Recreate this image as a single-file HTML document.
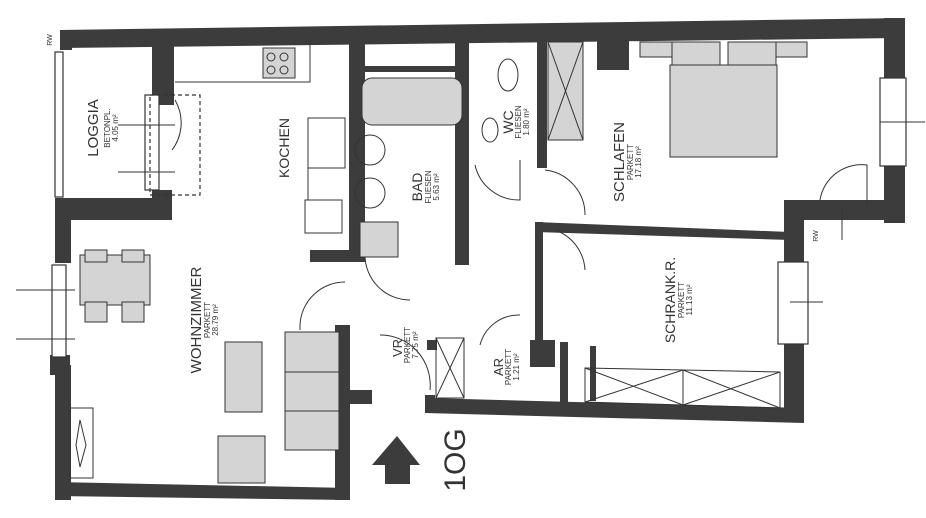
<!DOCTYPE html>
<html><head><meta charset="utf-8"><style>
html,body{margin:0;padding:0;background:#fff;}
svg{display:block;}
text{font-family:"Liberation Sans",sans-serif;fill:#333;}
</style></head><body>
<svg width="926" height="518" viewBox="0 0 926 518" xmlns="http://www.w3.org/2000/svg">
<rect width="926" height="518" fill="#fff"/>
<g fill="#3c3c3c">
<!-- top outer wall -->
<polygon points="60,30 905,18 905,38 60,48"/>
<!-- right wall schlafen -->
<rect x="884" y="18" width="21" height="205"/>
<rect x="790" y="200" width="115" height="20"/>
<!-- schrank right wall -->
<rect x="784" y="200" width="20" height="222"/>
<!-- bottom right wall -->
<polygon points="425,398 804,408 804,423 425,413"/>
<!-- loggia walls -->
<rect x="60" y="30" width="12" height="20"/>
<rect x="152" y="45" width="22" height="60"/>
<rect x="152" y="190" width="20" height="30"/>
<rect x="55" y="198" width="117" height="22"/>
<!-- wohnzimmer left wall -->
<rect x="55" y="198" width="16" height="65"/>
<rect x="50" y="355" width="20" height="20"/>
<rect x="55" y="365" width="16" height="135"/>
<!-- bottom wohnzimmer -->
<polygon points="55,482 350,488 350,500 55,496"/>
<rect x="335" y="325" width="15" height="175"/>
<rect x="350" y="390" width="22" height="14"/>
<!-- kitchen/bad wall -->
<rect x="349" y="40" width="16" height="222"/>
<rect x="310" y="250" width="55" height="12"/>
<!-- bad right wall -->
<rect x="455" y="40" width="14" height="225"/>
<rect x="365" y="66" width="100" height="6"/>
<!-- wc right wall -->
<rect x="537" y="40" width="10" height="128"/>
<!-- small pillar -->
<rect x="597" y="40" width="32" height="30"/>
<!-- schrank/schlafen wall -->
<polygon points="535,222 790,232 790,240 535,232"/>
<rect x="535" y="222" width="8" height="120"/>
<!-- VR/AR -->
<rect x="427" y="340" width="10" height="10"/>
<rect x="425" y="395" width="10" height="18"/>
<rect x="530" y="340" width="25" height="27"/>
<rect x="560" y="342" width="8" height="60"/>
<rect x="590" y="346" width="6" height="55"/>
</g>
<!-- windows -->
<g fill="#fff" stroke="#333" stroke-width="1.2">
<rect x="55" y="52" width="8" height="145"/>
<rect x="145" y="95" width="14" height="95"/>
<rect x="52" y="265" width="14" height="92"/>
<rect x="880" y="78" width="26" height="88"/>
<rect x="778" y="262" width="30" height="82"/>
<rect x="150" y="95" width="50" height="100" fill="none" stroke-dasharray="4,3"/>
</g>
<!-- window sill lines -->
<g stroke="#333" stroke-width="1" fill="none">
<line x1="118" y1="125" x2="175" y2="125"/><line x1="118" y1="172" x2="175" y2="172"/>
<line x1="16" y1="290" x2="75" y2="290"/><line x1="16" y1="339" x2="75" y2="339"/>
<line x1="880" y1="122" x2="925" y2="122"/><line x1="790" y1="302" x2="823" y2="302"/>
<line x1="842" y1="210" x2="842" y2="240"/>
<!-- doors arcs -->
<path d="M175,100 A45,45 0 0 1 172,150"/>
<path d="M820,200 A42,42 0 0 1 867,165 L867,205"/>
<path d="M365,255 A45,45 0 0 0 410,300"/>
<path d="M300,325 A45,45 0 0 1 345,282"/>
<path d="M475,165 A45,45 0 0 0 520,200 L520,160"/>
<path d="M545,170 A45,45 0 0 1 585,215"/>
<path d="M555,230 A45,45 0 0 1 585,270"/>
<path d="M480,345 A40,40 0 0 1 520,315"/>
<path d="M380,335 A50,50 0 0 1 430,390"/>
<path d="M300,325 L300,330"/>
<!-- counters -->
<polyline points="175,82 310,82 310,40"/>
<rect x="308" y="118" width="37" height="50"/>
<rect x="305" y="200" width="37" height="33"/>
<line x1="308" y1="168" x2="308" y2="200"/>
<rect x="362" y="78" width="100" height="47" fill="#d4d4d4" rx="10"/>
<ellipse cx="370" cy="150" rx="15" ry="15"/>
<ellipse cx="370" cy="193" rx="15" ry="15"/>
<rect x="360" y="222" width="38" height="35" fill="#d4d4d4"/>
<ellipse cx="508" cy="75" rx="10" ry="16"/>
<ellipse cx="490" cy="130" rx="8" ry="12"/>
<rect x="548" y="42" width="35" height="98" fill="#d4d4d4"/>
<line x1="548" y1="42" x2="583" y2="140"/><line x1="583" y1="42" x2="548" y2="140"/>
<rect x="263" y="48" width="32" height="30" fill="#d4d4d4"/>
<circle cx="271" cy="57" r="4"/><circle cx="284" cy="57" r="4"/><circle cx="271" cy="70" r="4"/><circle cx="284" cy="70" r="4"/>
<!-- bed -->
<rect x="640" y="42" width="35" height="15" fill="#d4d4d4"/>
<rect x="775" y="42" width="32" height="15" fill="#d4d4d4"/>
<rect x="672" y="42" width="48" height="25" fill="#d4d4d4"/>
<rect x="728" y="42" width="48" height="25" fill="#d4d4d4"/>
<rect x="670" y="65" width="107" height="92" fill="#d4d4d4"/>
<!-- wardrobe -->
<polygon points="585,368 780,372 780,408 585,402"/>
<line x1="683" y1="370" x2="683" y2="405"/>
<line x1="585" y1="368" x2="683" y2="405"/><line x1="585" y1="402" x2="683" y2="370"/>
<line x1="683" y1="370" x2="780" y2="408"/><line x1="683" y1="405" x2="780" y2="372"/>
<rect x="436" y="338" width="28" height="60"/>
<line x1="436" y1="338" x2="464" y2="398"/><line x1="464" y1="338" x2="436" y2="398"/>
<!-- living furniture -->
<rect x="80" y="255" width="70" height="50" fill="#d4d4d4"/>
<rect x="85" y="250" width="22" height="12" fill="#d4d4d4"/><rect x="122" y="250" width="22" height="12" fill="#d4d4d4"/>
<rect x="85" y="302" width="22" height="20" fill="#d4d4d4"/><rect x="122" y="302" width="22" height="20" fill="#d4d4d4"/>
<rect x="225" y="342" width="37" height="70" fill="#d4d4d4"/>
<rect x="285" y="332" width="54" height="118" fill="#d4d4d4"/>
<line x1="285" y1="372" x2="339" y2="372"/><line x1="285" y1="411" x2="339" y2="411"/>
<rect x="218" y="436" width="47" height="47" fill="#d4d4d4"/>
<rect x="70" y="408" width="23" height="70"/>
<path d="M80,420 L76,445 L80,467 L86,445 Z"/>
</g>
<!-- arrow -->
<polygon points="397,436 420,465 410,465 410,484 385,484 385,465 372,465" fill="#3c3c3c"/>
<!-- labels -->
<g text-anchor="middle">
<text transform="translate(98,128) rotate(-90)" font-size="15">LOGGIA</text>
<text transform="translate(110,128) rotate(-90)" font-size="8">BETONPL.</text>
<text transform="translate(118,128) rotate(-90)" font-size="8">4.05 m²</text>
<text transform="translate(289,148) rotate(-90)" font-size="14">KOCHEN</text>
<text transform="translate(422,187) rotate(-90)" font-size="14">BAD</text>
<text transform="translate(431,187) rotate(-90)" font-size="8">FLIESEN</text>
<text transform="translate(439,187) rotate(-90)" font-size="8">5.63 m²</text>
<text transform="translate(513,122) rotate(-90)" font-size="14">WC</text>
<text transform="translate(521,122) rotate(-90)" font-size="8">FLIESEN</text>
<text transform="translate(529,122) rotate(-90)" font-size="8">1.80 m²</text>
<text transform="translate(624,162) rotate(-90)" font-size="15">SCHLAFEN</text>
<text transform="translate(633,162) rotate(-90)" font-size="8">PARKETT</text>
<text transform="translate(641,162) rotate(-90)" font-size="8">17.18 m²</text>
<text transform="translate(675,300) rotate(-90)" font-size="14">SCHRANK.R.</text>
<text transform="translate(684,300) rotate(-90)" font-size="8">PARKETT</text>
<text transform="translate(692,300) rotate(-90)" font-size="8">11.13 m²</text>
<text transform="translate(201,320) rotate(-90)" font-size="15">WOHNZIMMER</text>
<text transform="translate(210,320) rotate(-90)" font-size="8">PARKETT</text>
<text transform="translate(218,320) rotate(-90)" font-size="8">28.79 m²</text>
<text transform="translate(402,348) rotate(-90)" font-size="13">VR</text>
<text transform="translate(410,345) rotate(-90)" font-size="8">PARKETT</text>
<text transform="translate(418,345) rotate(-90)" font-size="8">7.75 m²</text>
<text transform="translate(503,367) rotate(-90)" font-size="13">AR</text>
<text transform="translate(511,367) rotate(-90)" font-size="8">PARKETT</text>
<text transform="translate(519,367) rotate(-90)" font-size="8">1.21 m²</text>
<text transform="translate(465,460) rotate(-90)" font-size="30">1OG</text>
<text transform="translate(52,40) rotate(-90)" font-size="7">RW</text>
<text transform="translate(818,236) rotate(-90)" font-size="7">RW</text>
</g>
</svg>
</body></html>
